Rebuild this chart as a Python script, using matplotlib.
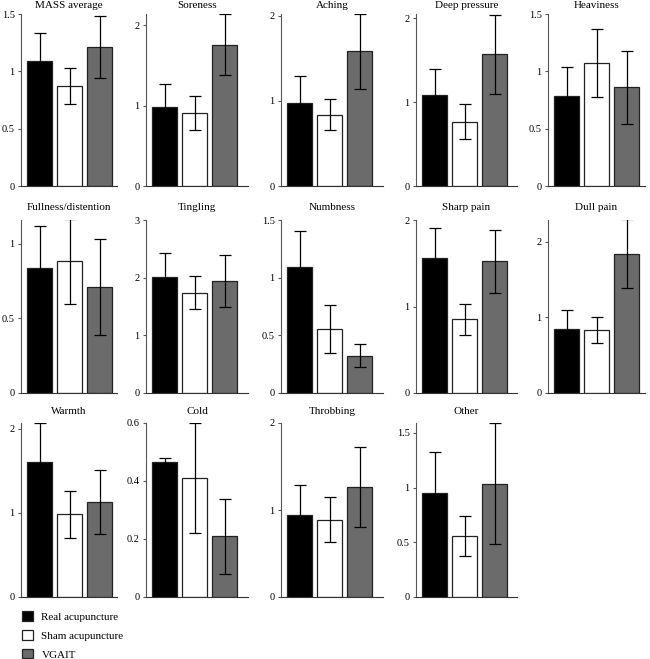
import matplotlib
matplotlib.use("Agg")
import matplotlib.pyplot as plt
from matplotlib.patches import Patch

plt.rcParams['font.family'] = ['Liberation Serif', 'DejaVu Serif']

panelNames = ["MASS average", "Soreness", "Aching", "Deep pressure", "Heaviness",
              "Fullness/distention", "Tingling", "Numbness", "Sharp pain", "Dull pain",
              "Warmth", "Cold", "Throbbing", "Other"]
groupNames = ["Real acupuncture", "Sham acupuncture", "VGAIT"]

realMeans = [1.087, 0.985, 0.979, 1.09, 0.785, 0.838, 2.015, 1.096, 1.564, 0.844, 1.602, 0.465, 0.938, 0.948]
realErrs = [0.247, 0.285, 0.315, 0.31, 0.255, 0.285, 0.405, 0.305, 0.343, 0.26, 0.466, 0.014, 0.348, 0.379]
shamMeans = [0.872, 0.907, 0.838, 0.767, 1.072, 0.883, 1.737, 0.554, 0.853, 0.835, 0.982, 0.41, 0.89, 0.561]
shamErrs = [0.16, 0.21, 0.18, 0.205, 0.3, 0.283, 0.285, 0.207, 0.18, 0.175, 0.28, 0.19, 0.263, 0.182]
vgaitMeans = [1.215, 1.76, 1.58, 1.57, 0.86, 0.71, 1.935, 0.323, 1.523, 1.845, 1.13, 0.209, 1.265, 1.035]
vgaitErrs = [0.27, 0.385, 0.44, 0.47, 0.32, 0.32, 0.45, 0.098, 0.365, 0.46, 0.38, 0.13, 0.46, 0.555]

yTops = [1.5, 2.14, 2.02, 2.05, 1.5, 1.16, 3, 1.5, 2, 2.29, 2.07, 0.6, 2, 1.59]
yTicks = [[0, 0.5, 1, 1.5], [0, 1, 2], [0, 1, 2], [0, 1, 2], [0, 0.5, 1, 1.5],
          [0, 0.5, 1], [0, 1, 2, 3], [0, 0.5, 1, 1.5], [0, 1, 2], [0, 1, 2],
          [0, 1, 2], [0, 0.2, 0.4, 0.6], [0, 1, 2], [0, 0.5, 1, 1.5]]

barColors = ["black", "white", "#6b6b6b"]

W, H = 650, 659
fig = plt.figure(figsize=(W / 100, H / 100), dpi=100)

# pixel layout of the panel grid
colLeft = [21, 146, 281, 416, 548]
colRight = [117, 248, 383, 517, 645]
rowTop = [14, 220, 423]
rowBottom = [186, 393, 597]
titleY = [5, 207, 411]
pitch = 30.0

for i, name in enumerate(panelNames):
    r, c = divmod(i, 5)
    L, R = colLeft[c], colRight[c]
    T, B = rowTop[r], rowBottom[r]
    ax = fig.add_axes([L / W, 1 - B / H, (R - L) / W, (B - T) / H])
    means = [realMeans[i], shamMeans[i], vgaitMeans[i]]
    errs = [realErrs[i], shamErrs[i], vgaitErrs[i]]
    for k in range(3):
        ax.bar(k, means[k], width=25 / pitch, color=barColors[k], edgecolor="#222222",
               linewidth=0.9, zorder=2)
        ax.errorbar(k, means[k], yerr=errs[k], color="black", elinewidth=0.9,
                    capsize=4.5, capthick=0.9, zorder=3)
    ax.set_xlim(-18.5 / pitch, -18.5 / pitch + (R - L) / pitch)
    ax.set_ylim(0, yTops[i])
    ax.set_yticks(yTicks[i])
    ax.set_yticklabels(["%g" % t for t in yTicks[i]])
    ax.set_xticks([])
    ax.spines['top'].set_visible(False)
    ax.spines['right'].set_visible(False)
    ax.spines['left'].set_color("#555555")
    ax.spines['bottom'].set_color("#333333")
    ax.tick_params(axis='y', length=2.5, width=0.8, color="#555555", labelsize=7.5, pad=2)
    fig.text((L + R) / 2 / W, 1 - titleY[r] / H, name, ha="center", va="center", fontsize=8)

handles = [Patch(facecolor=barColors[k], edgecolor="#222222", linewidth=0.9) for k in range(3)]
fig.legend(handles, groupNames, loc="upper left", bbox_to_anchor=(22 / W, 1 - 611 / H),
           frameon=False, fontsize=8, handlelength=0.95, handleheight=0.95,
           labelspacing=0.75, handletextpad=0.8, borderaxespad=0, borderpad=0)

fig.savefig("out.png", dpi=100)
